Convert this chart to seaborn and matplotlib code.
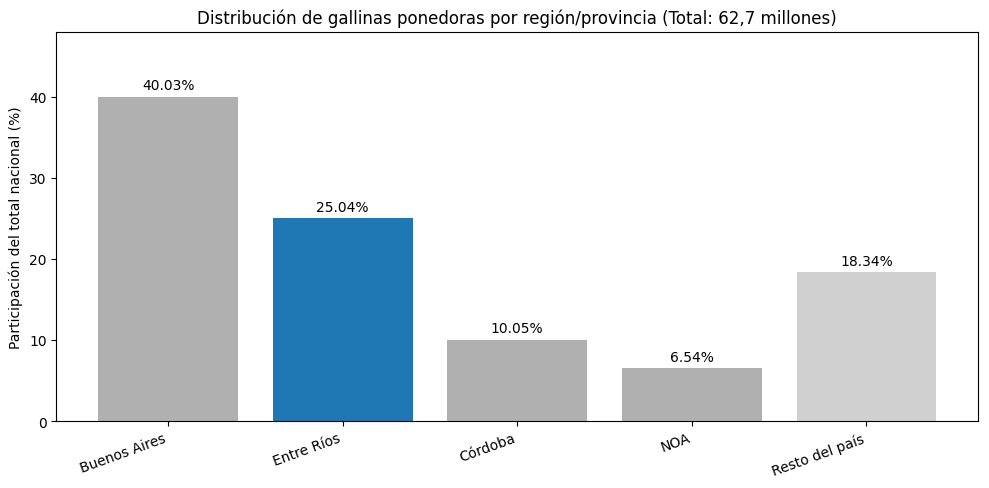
import matplotlib
matplotlib.use("Agg")
import matplotlib.pyplot as plt
import seaborn as sns
import pandas as pd

# Data
regiones = ["Buenos Aires", "Entre Ríos", "Córdoba", "NOA", "Resto del país"]
participacion = [40.03, 25.04, 10.05, 6.54, 18.34]
colores = ["#b0b0b0", "#1f77b4", "#b0b0b0", "#b0b0b0", "#d0d0d0"]

df = pd.DataFrame({"Región": regiones, "Participación": participacion})

fig, ax = plt.subplots(figsize=(9.89, 4.89), dpi=100)
sns.barplot(data=df, x="Región", y="Participación", hue="Región",
            palette=colores, legend=False, saturation=1, width=0.8, ax=ax)

for patch, val in zip(ax.patches, participacion):
    ax.annotate(f"{val:.2f}%", (patch.get_x() + patch.get_width() / 2, patch.get_height()),
                xytext=(0, 3), textcoords="offset points", ha="center", va="bottom", fontsize=10)

# plain matplotlib-style x padding around the bars
n = len(regiones)
pad = (n - 1 + 0.8) * 0.05
ax.set_xlim(-0.4 - pad, n - 1 + 0.4 + pad)
ax.set_ylim(0, max(participacion) * 1.2)
ax.set_title("Distribución de gallinas ponedoras por región/provincia (Total: 62,7 millones)", fontsize=12)
ax.set_ylabel("Participación del total nacional (%)")
ax.set_xlabel("")
plt.setp(ax.get_xticklabels(), rotation=20, ha="right")

fig.subplots_adjust(left=0.057, right=0.989, top=0.933, bottom=0.137)
plt.savefig("out.png", dpi=100)
